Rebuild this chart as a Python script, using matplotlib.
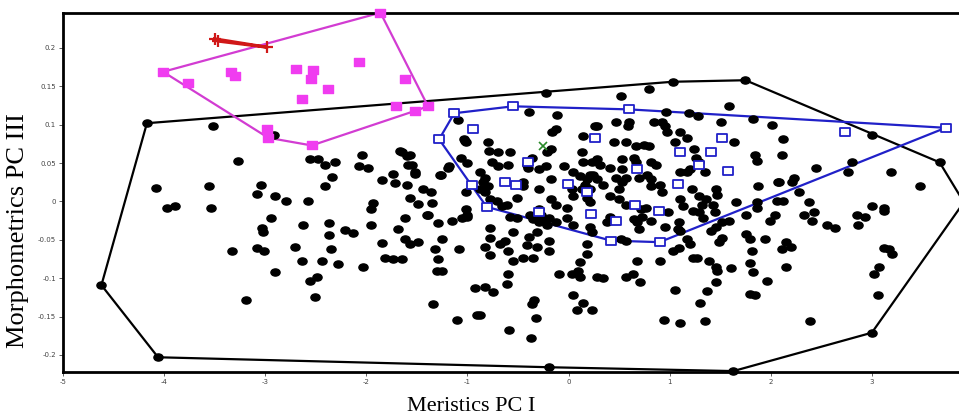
import matplotlib
matplotlib.use('Agg')
import matplotlib.pyplot as plt
from matplotlib.path import Path
from matplotlib.transforms import Affine2D
import numpy as np

# --- data (Meristics PC I, Morphometrics PC III) ---
black_pts = [
    # hull region
    (-4.17,0.102),(-0.22,0.141),(1.03,0.156),(1.75,0.158),(3.00,0.087),(3.67,0.051),(3.91,-0.001),
    (3.00,-0.171),(1.63,-0.221),(-0.19,-0.216),(-4.06,-0.203),(-4.62,-0.109),
    # left, upper
    (-3.52,0.098),(-2.91,0.087),(-3.27,0.053),(-4.08,0.017),(-3.56,0.020),(-3.04,0.022),(-3.08,0.010),
    (-2.90,0.007),(-2.79,0.000),(-2.58,0.001),(-2.56,0.056),(-2.48,0.056),(-2.41,0.047),(-2.31,0.052),
    (-2.34,0.032),(-2.41,0.020),(-2.04,0.060),(-2.07,0.046),(-1.98,0.044),(-1.67,0.066),(-1.57,0.060),
    (-1.59,0.047),(-1.52,0.036),(-1.74,0.036),(-1.72,0.024),(-1.84,0.028),(-1.60,0.022),(-1.44,0.016),
    (-1.36,0.013),(-1.57,0.004),(-1.49,-0.003),(-1.35,-0.002),(-1.27,0.035),(-1.19,0.044),(-1.09,0.106),
    (-1.02,0.079),(-1.06,0.057),(-1.00,0.050),(-1.93,-0.002),(-3.97,-0.008),(-3.89,-0.006),(-3.54,-0.008),
    # left, lower
    (-2.94,-0.021),(-3.03,-0.034),(-3.02,-0.040),(-2.63,-0.031),(-2.37,-0.028),(-2.37,-0.044),(-2.21,-0.037),
    (-2.13,-0.041),(-1.95,-0.031),(-1.95,-0.010),(-1.69,-0.036),(-1.62,-0.021),(-1.84,-0.054),(-1.62,-0.049),
    (-1.57,-0.056),(-1.49,-0.053),(-1.39,-0.018),(-1.29,-0.028),(-1.25,-0.049),(-1.32,-0.062),(-1.29,-0.075),
    (-1.30,-0.091),(-1.25,-0.090),(-1.34,-0.133),(-1.10,-0.154),(-1.08,-0.062),(-1.15,-0.026),(-1.05,-0.021),
    (-1.00,-0.017),(-0.93,-0.113),(-0.91,-0.148),(-3.33,-0.065),(-3.08,-0.060),(-3.01,-0.065),(-2.71,-0.059),
    (-2.64,-0.077),(-2.44,-0.078),(-2.35,-0.062),(-2.28,-0.082),(-2.90,-0.092),(-2.56,-0.103),(-2.49,-0.099),
    (-2.51,-0.124),(-3.19,-0.129),(-2.03,-0.085),(-1.82,-0.073),(-1.74,-0.075),(-1.65,-0.075),
    # centre, upper
    (-0.39,0.116),(-0.11,0.113),(-0.12,0.095),(-0.16,0.090),(0.26,0.098),(-1.03,0.081),(-1.01,0.077),
    (-0.80,0.077),(-0.79,0.066),(-0.70,0.064),(-0.58,0.064),(-0.17,0.068),(-0.21,0.064),(0.14,0.085),
    (0.13,0.064),(-0.76,0.051),(-0.70,0.046),(-0.60,0.047),(-0.36,0.057),(-0.41,0.048),(-0.40,0.043),
    (-0.29,0.042),(-0.22,0.046),(-0.04,0.046),(0.04,0.039),(0.14,0.051),(0.23,0.051),(0.24,0.035),
    (-0.88,0.039),(-0.83,0.031),(-0.85,0.025),(-0.80,0.020),(-1.18,0.046),(-1.26,0.034),(-1.60,0.059),
    (-1.55,0.048),(-1.52,0.039),(-1.65,0.065),(-1.01,0.012),(-0.88,0.016),(-0.83,0.012),(-0.78,0.003),
    (-0.71,0.000),(-0.66,-0.006),(-0.61,-0.004),(-0.51,0.004),(-0.45,0.026),(-0.45,0.020),(-0.29,0.016),
    (-0.17,0.029),(-0.17,0.003),(-0.12,-0.004),(-0.02,-0.008),(0.03,0.016),(0.04,0.007),(0.11,0.033),
    (0.18,0.029),(0.13,0.016),(0.16,0.022),(0.21,-0.001),(0.18,0.005),(-0.29,-0.010),(-0.27,-0.017),
    (-1.01,-0.010),(-1.00,-0.020),(-1.40,-0.017),
    # centre-right, upper
    (0.52,0.138),(0.80,0.146),(1.59,0.124),(0.96,0.116),(1.19,0.115),(1.28,0.111),(0.47,0.103),
    (0.60,0.103),(0.59,0.098),(0.28,0.099),(0.85,0.103),(0.92,0.103),(0.95,0.098),(0.97,0.091),
    (1.51,0.104),(1.82,0.108),(2.01,0.100),(1.10,0.090),(1.17,0.083),(1.05,0.078),(0.45,0.078),
    (0.57,0.078),(0.75,0.074),(0.80,0.072),(0.67,0.072),(1.64,0.077),(2.12,0.081),(0.28,0.055),
    (0.31,0.048),(0.53,0.055),(0.65,0.057),(0.67,0.052),(0.82,0.051),(0.87,0.047),(1.24,0.068),
    (1.26,0.057),(1.29,0.052),(1.84,0.061),(1.86,0.053),(2.11,0.060),(0.41,0.044),(0.53,0.042),
    (0.21,0.035),(0.28,0.029),(0.34,0.022),(0.47,0.031),(0.57,0.030),(0.53,0.025),(0.70,0.031),
    (0.78,0.035),(0.82,0.029),(1.10,0.039),(1.17,0.038),(1.20,0.042),(1.35,0.039),(0.82,0.020),
    (0.90,0.022),(0.92,0.013),(0.50,0.016),(0.41,0.007),(1.22,0.016),(1.29,0.007),(1.32,-0.004),
    (1.36,0.003),(1.46,0.016),(1.47,0.009),(1.10,0.003),(1.13,-0.006),(1.66,-0.001),(1.86,-0.001),
    (1.86,-0.008),(1.87,0.020),(2.07,0.026),(0.72,-0.010),(0.77,-0.008),(0.98,-0.014),(1.23,-0.013),
    (1.29,-0.014),(1.43,-0.004),(1.45,-0.014),(0.50,0.003),(0.57,-0.004),(0.21,0.016),
    # right
    (2.45,0.043),(2.80,0.052),(2.76,0.039),(3.19,0.039),(3.48,0.020),(2.23,0.031),(2.21,0.025),
    (2.08,0.025),(2.28,0.012),(2.38,-0.001),(2.06,0.000),(2.12,0.000),(3.00,-0.006),(3.12,-0.008),
    # lower half
    (2.33,-0.017),(2.43,-0.014),(2.41,-0.026),(2.56,-0.030),(2.64,-0.034),(2.85,-0.018),(2.93,-0.020),
    (2.86,-0.031),(3.12,-0.013),(2.04,-0.018),(1.99,-0.026),(2.15,-0.053),(2.20,-0.059),(2.11,-0.062),
    (2.15,-0.085),(1.94,-0.049),(1.76,-0.043),(3.12,-0.060),(3.17,-0.062),(3.20,-0.068),(3.07,-0.085),
    (3.02,-0.094),(3.06,-0.122),(2.39,-0.156),(1.79,-0.049),(1.81,-0.065),(1.79,-0.080),(1.82,-0.092),
    (1.79,-0.121),(1.84,-0.122),(1.96,-0.104),(1.61,-0.087),(1.49,-0.053),(1.52,-0.047),(1.41,-0.039),
    (1.46,-0.033),(1.52,-0.027),(1.59,-0.026),(1.39,-0.078),(1.46,-0.086),(1.47,-0.091),(1.46,-0.105),
    (1.37,-0.117),(1.30,-0.132),(1.35,-0.156),(0.94,-0.155),(1.10,-0.159),(1.05,-0.116),(0.90,-0.078),
    (0.68,-0.078),(0.57,-0.099),(0.64,-0.094),(0.71,-0.105),(0.28,-0.099),(0.34,-0.100),(0.03,-0.094),
    (0.09,-0.091),(0.11,-0.098),(-0.09,-0.094),(0.04,-0.122),(0.14,-0.132),(0.08,-0.142),(0.23,-0.141),
    (0.11,-0.079),(0.18,-0.069),(0.18,-0.056),(-0.34,-0.128),(-0.36,-0.134),(-0.32,-0.152),(-0.37,-0.178),
    (-0.59,-0.167),(-0.60,-0.095),(-0.61,-0.107),(-0.83,-0.112),(-0.75,-0.118),(-0.88,-0.148),(-0.55,-0.078),
    (-0.45,-0.074),(-0.35,-0.074),(-0.78,-0.070),(-0.68,-0.056),(-0.63,-0.052),(-0.60,-0.065),(-0.41,-0.057),
    (-0.31,-0.059),(-0.39,-0.046),(-0.31,-0.040),(-0.19,-0.051),(-0.19,-0.065),(0.57,-0.052),(0.52,-0.049),
    (-0.78,-0.034),(-0.78,-0.047),(-0.55,-0.040),(-0.35,-0.023),(-0.29,-0.027),
    (-0.83,-0.059),(-0.58,-0.020),(-0.51,-0.021),(-0.38,-0.017),(-0.26,-0.023),(-0.19,-0.021),(-0.21,-0.030),
    (-0.12,-0.027),(-0.02,-0.021),(0.04,-0.030),(0.21,-0.033),(0.23,-0.040),
    (1.23,-0.073),(1.27,-0.074),(1.03,-0.064),(1.09,-0.060),(1.17,-0.049),(1.20,-0.056),(1.09,-0.027),
    (1.08,-0.036),(1.10,-0.039),(0.95,-0.033),(0.68,-0.027),(0.70,-0.036),(0.65,-0.023),(0.73,-0.020),
    (0.82,-0.026),(0.38,-0.027),(0.41,-0.020),(1.33,-0.021),(1.76,-0.017),
]

blue_pts = [
    (-1.13,0.115),(-1.28,0.081),(-0.94,0.094),(-0.55,0.124),(0.60,0.120),(3.73,0.096),(2.73,0.090),
    (-0.40,0.051),(0.26,0.083),(1.52,0.083),(1.10,0.064),(1.41,0.064),(0.68,0.042),(1.29,0.048),
    (1.58,0.040),(-0.63,0.026),(-0.52,0.022),(-0.01,0.023),(1.08,0.023),(0.18,0.013),(-0.95,0.021),
    (-0.81,-0.007),(0.22,-0.016),(0.47,-0.026),(0.89,-0.013),(0.66,-0.004),(0.42,-0.051),(0.90,-0.053),
    (-0.29,-0.014),
]

magenta_pts = [
    (-4.01,0.169),(-1.86,0.246),(-1.39,0.124),(-1.52,0.118),(-1.71,0.125),(-2.54,0.073),(-2.97,0.083),
    (-2.98,0.095),(-3.76,0.155),(-3.34,0.169),(-3.30,0.163),(-2.70,0.172),(-2.53,0.171),(-2.55,0.160),
    (-2.38,0.147),(-2.64,0.133),(-2.07,0.182),(-1.62,0.159),
]

red_pts = [(-3.50,0.212),(-3.47,0.209),(-2.98,0.201)]
green_pts = [(-0.25,0.072)]

xticks = [-5, -4, -3, -2, -1, 0, 1, 2, 3]
yticks = [-0.2, -0.15, -0.1, -0.05, 0, 0.05, 0.1, 0.15, 0.2]
ytick_labels = ['-0.2', '-0.15', '-0.1', '-0.05', '0', '0.05', '0.1', '0.15', '0.2']

# slightly flattened markers, like the scanned figure
oval = Path.unit_circle().transformed(Affine2D().scale(1.0, 0.78))
box = Path([(-1, -0.75), (1, -0.75), (1, 0.75), (-1, 0.75), (-1, -0.75)],
           [Path.MOVETO, Path.LINETO, Path.LINETO, Path.LINETO, Path.CLOSEPOLY])


def hull(pts):
    # monotone chain convex hull
    P = sorted(set(pts))
    if len(P) < 3:
        return P
    def cross(o, a, b):
        return (a[0]-o[0])*(b[1]-o[1]) - (a[1]-o[1])*(b[0]-o[0])
    lower, upper = [], []
    for p in P:
        while len(lower) >= 2 and cross(lower[-2], lower[-1], p) <= 0:
            lower.pop()
        lower.append(p)
    for p in reversed(P):
        while len(upper) >= 2 and cross(upper[-2], upper[-1], p) <= 0:
            upper.pop()
        upper.append(p)
    H = lower[:-1] + upper[:-1]
    return H + [H[0]]


def draw_group(ax, pts, col, lw, **kw):
    P = np.array(pts)
    H = np.array(hull(pts))
    ax.plot(H[:, 0], H[:, 1], color=col, linewidth=lw, zorder=2)
    ax.plot(P[:, 0], P[:, 1], linestyle='none', zorder=3, clip_on=False, **kw)


fig = plt.figure(figsize=(9.59, 4.19), dpi=100)
ax = fig.add_axes([63/959, 47/419, 896/959, 359/419])

draw_group(ax, black_pts, 'black', 1.6, marker=oval, color='black', markersize=6.6)
draw_group(ax, magenta_pts, '#d23cd2', 1.6, marker=box, color='#f03cf0', markersize=6.8)
draw_group(ax, blue_pts, '#2020c8', 1.6, marker=box, markersize=7.6,
           markerfacecolor='white', markeredgecolor='#2020c8', markeredgewidth=1.3)
draw_group(ax, red_pts, '#d01818', 2.2, marker='+', color='#d01818',
           markersize=8, markeredgewidth=1.6)
G = np.array(green_pts)
ax.plot(G[:, 0], G[:, 1], linestyle='none', marker='x', color='#2a8a2a',
        markersize=6, markeredgewidth=1.2, zorder=4)

ax.set_xlim(-5, 3.862)
ax.set_ylim(-0.2222, 0.2456)
ax.set_xticks(xticks)
ax.set_xticklabels([str(t) for t in xticks])
ax.set_yticks(yticks)
ax.set_yticklabels(ytick_labels)
ax.tick_params(direction='out', length=3, width=0.6, labelsize=5,
               labelcolor='#444444', color='#444444', pad=2)

for s in ['left', 'bottom', 'top']:
    ax.spines[s].set_linewidth(2)
ax.spines['right'].set_visible(False)

ax.set_xlabel('Meristics PC I', fontsize=16, family='Liberation Serif')
ax.set_ylabel('Morphometrics PC III', fontsize=19, family='Liberation Serif')
ax.xaxis.set_label_coords(0.456, -0.07)
ax.yaxis.set_label_coords(-0.038, 0.393)

fig.savefig('out.png', dpi=100)
